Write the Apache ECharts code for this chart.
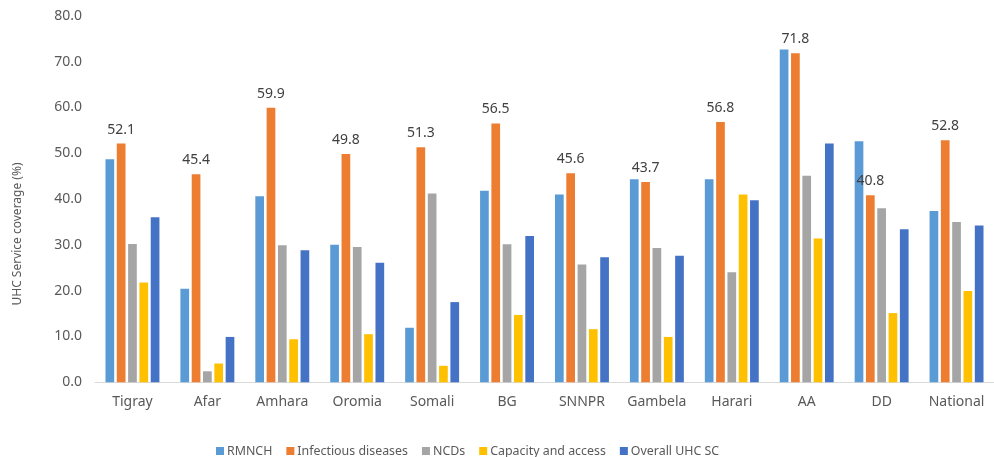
<!DOCTYPE html>
<html>
<head>
<meta charset="utf-8">
<script src="https://cdn.jsdelivr.net/npm/echarts@6/dist/echarts.min.js"></script>
<style>
  html, body { margin: 0; padding: 0; background: #ffffff; }
  #chart { width: 994px; height: 457px; }
</style>
</head>
<body>
<div id="chart"></div>
<script>
// Regions shown along the x axis
const regions = ['Tigray', 'Afar', 'Amhara', 'Oromia', 'Somali', 'BG', 'SNNPR', 'Gambela', 'Harari', 'AA', 'DD', 'National'];

// UHC service coverage (%) by tracer domain
const rmnch      = [48.7, 20.4, 40.6, 30.0, 11.9, 41.8, 41.0, 44.3, 44.3, 72.6, 52.6, 37.4];
const infectious = [52.1, 45.4, 59.9, 49.8, 51.3, 56.5, 45.6, 43.7, 56.8, 71.8, 40.8, 52.8];
const ncds       = [30.2,  2.4, 29.9, 29.5, 41.2, 30.1, 25.7, 29.3, 24.0, 45.1, 38.0, 35.0];
const capacity   = [21.8,  4.1,  9.4, 10.5,  3.6, 14.7, 11.6,  9.9, 41.0, 31.4, 15.1, 19.9];
const overall    = [36.0,  9.9, 28.8, 26.1, 17.5, 31.9, 27.3, 27.6, 39.7, 52.1, 33.4, 34.2];

const yTicks = [0, 10, 20, 30, 40, 50, 60, 70, 80];

const FONT = 'Noto Sans';
const textGrey = '#595959';

const seriesDefs = [
  { name: 'RMNCH', data: rmnch, color: '#5B9BD5' },
  { name: 'Infectious diseases', data: infectious, color: '#ED7D31', labelled: true },
  { name: 'NCDs', data: ncds, color: '#A5A5A5' },
  { name: 'Capacity and access', data: capacity, color: '#FFC000' },
  { name: 'Overall UHC SC', data: overall, color: '#4472C4' }
];

const chart = echarts.init(document.getElementById('chart'), null, { renderer: 'canvas' });

chart.setOption({
  animation: false,
  backgroundColor: '#ffffff',
  textStyle: { fontFamily: FONT },
  grid: { left: 95, right: -6, top: 15.7, bottom: 74.7, containLabel: false },
  legend: {
    left: 211,
    top: 440,
    itemWidth: 8,
    itemHeight: 8,
    itemGap: 14,
    icon: 'rect',
    textStyle: { color: textGrey, fontSize: 12.4, fontFamily: FONT, padding: [0, 0, 0, -2] },
    data: seriesDefs.map(s => s.name)
  },
  xAxis: {
    type: 'category',
    data: regions,
    axisLine: { lineStyle: { color: '#D9D9D9', width: 1 } },
    axisTick: { show: false },
    axisLabel: { color: textGrey, fontSize: 14, fontFamily: FONT, margin: 13, interval: 0 }
  },
  yAxis: {
    type: 'value',
    min: yTicks[0],
    max: yTicks[yTicks.length - 1],
    interval: 10,
    splitLine: { show: false },
    axisLine: { show: false },
    axisTick: { show: false },
    axisLabel: {
      color: textGrey, fontSize: 14, fontFamily: FONT, margin: 13,
      formatter: v => v.toFixed(1)
    }
  },
  graphic: [{
    type: 'text',
    x: 18,
    y: 234,
    rotation: Math.PI / 2,
    style: {
      text: 'UHC Service coverage (%)',
      fill: textGrey,
      font: '12px "' + FONT + '"',
      align: 'center',
      verticalAlign: 'middle'
    }
  }],
  series: seriesDefs.map(s => ({
    name: s.name,
    type: 'bar',
    data: s.data,
    barWidth: 8.7,
    barGap: '30%',
    itemStyle: { color: s.color },
    label: s.labelled ? {
      show: true,
      position: 'top',
      distance: 7,
      color: '#404040',
      fontSize: 14,
      fontFamily: FONT,
      formatter: p => p.value.toFixed(1)
    } : { show: false }
  }))
});
</script>
</body>
</html>
